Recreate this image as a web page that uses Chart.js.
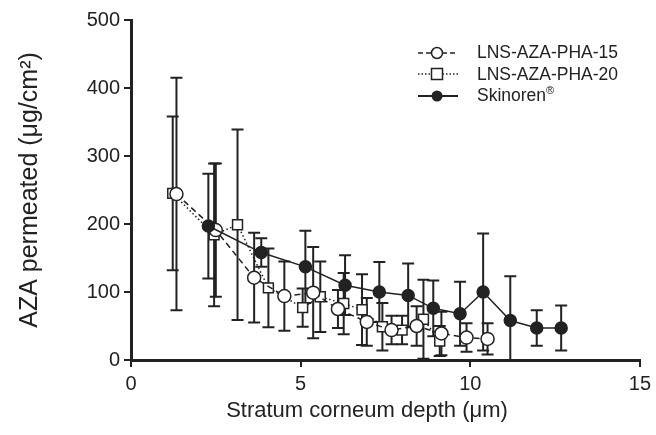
<!DOCTYPE html>
<html>
<head>
<meta charset="utf-8">
<script src="https://cdn.jsdelivr.net/npm/chart.js@4.4.1/dist/chart.umd.min.js"></script>
<style>
  html, body { margin: 0; padding: 0; background: #fff; }
  #wrap { position: relative; width: 656px; height: 435px; }
  #legend {
    position: absolute; left: 416px; top: 42px;
    font-family: "Liberation Sans", Arial, sans-serif; font-size: 17.5px; color: #222;
  }
  .row { display: flex; align-items: center; height: 21.5px; }
  .row svg { width: 44px; height: 16px; margin-right: 17px; }
  .row sup { font-size: 11px; line-height: 0; }
  #xtitle {
    position: absolute; left: 367px; top: 397px; transform: translateX(-50%);
    white-space: nowrap; font-family: "Liberation Sans", Arial, sans-serif; font-size: 22px; color: #222;
  }
</style>
</head>
<body>
<div id="wrap">
  <canvas id="chart" width="656" height="435"></canvas>
  <div id="xtitle">Stratum corneum depth (μm)</div>
  <div id="legend">
    <div class="row">
      <svg viewBox="0 0 44 16"><line x1="2" y1="8" x2="42" y2="8" stroke="#222" stroke-width="1.5" stroke-dasharray="5 3"/><circle cx="21" cy="8" r="5.5" fill="#fff" stroke="#222" stroke-width="1.5"/></svg>
      <span>LNS-AZA-PHA-15</span>
    </div>
    <div class="row">
      <svg viewBox="0 0 44 16"><line x1="2" y1="8" x2="42" y2="8" stroke="#222" stroke-width="1.5" stroke-dasharray="1.5 2"/><rect x="15.5" y="2.5" width="11" height="11" fill="#fff" stroke="#222" stroke-width="1.5"/></svg>
      <span>LNS-AZA-PHA-20</span>
    </div>
    <div class="row">
      <svg viewBox="0 0 44 16"><line x1="2" y1="8" x2="42" y2="8" stroke="#222" stroke-width="1.8"/><circle cx="21" cy="8" r="5.5" fill="#222"/></svg>
      <span>Skinoren<sup>®</sup></span>
    </div>
  </div>
</div>
<script>
const ink = '#222';
const family = '"Liberation Sans", Arial, sans-serif';

// LNS-AZA-PHA-15 (open circles, dashed)
const depth15 = [1.34, 2.5, 3.63, 4.52, 5.37, 6.1, 6.95, 7.68, 8.42, 9.15, 9.89, 10.51];
const aza15 = [244, 191, 121, 94, 99, 75, 56, 44, 50, 39, 33, 31];
const sd15 = [171, 98, 66, 51, 67, 28, 35, 21, 29, 32, 21, 23];

// LNS-AZA-PHA-20 (open squares, dotted)
const depth20 = [1.23, 2.45, 3.14, 4.05, 5.06, 5.58, 6.27, 6.81, 7.41, 7.99, 8.62, 9.1];
const aza20 = [245, 184, 199, 106, 77, 93, 83, 74, 49, 44, 60, 28];
const sd20 = [113, 105, 140, 58, 28, 52, 45, 52, 35, 21, 58, 22];

// Skinoren (filled circles, solid)
const depthSk = [2.28, 3.84, 5.14, 6.31, 7.32, 8.17, 8.91, 9.7, 10.38, 11.18, 11.96, 12.68];
const azaSk = [197, 158, 137, 110, 100, 95, 76, 68, 100, 58, 47, 47];
const sdSk = [77, 21, 53, 44, 44, 47, 41, 47, 86, 65, 26, 33];

const xTicks = [0, 5, 10, 15];
const yTicks = [0, 100, 200, 300, 400, 500];

function points(xs, ys) {
    return xs.map((x, i) => ({ x: x, y: ys[i] }));
}

// vertical SD bars with caps, drawn under the markers
const errorBars = {
    id: 'errorBars',
    beforeDatasetsDraw(chart) {
        const { ctx, scales: { x, y } } = chart;
        ctx.save();
        ctx.strokeStyle = ink;
        ctx.lineWidth = 2;
        chart.data.datasets.forEach(ds => {
            ds.data.forEach((p, i) => {
                const px = x.getPixelForValue(p.x);
                const lo = p.y - ds.sd[i];
                const top = y.getPixelForValue(p.y + ds.sd[i]);
                const bottom = y.getPixelForValue(Math.max(lo, 0));
                ctx.beginPath();
                ctx.moveTo(px, top);
                ctx.lineTo(px, bottom);
                ctx.moveTo(px - 6, top);
                ctx.lineTo(px + 6, top);
                if (lo > 0) {
                    ctx.moveTo(px - 6, bottom);
                    ctx.lineTo(px + 6, bottom);
                }
                ctx.stroke();
            });
        });
        ctx.restore();
    }
};

const baseSet = {
    showLine: true,
    borderColor: ink,
    borderWidth: 1.5,
    pointBorderColor: ink,
    pointBorderWidth: 1.5,
    pointRadius: 6.5,
    pointHoverRadius: 6.5
};

new Chart(document.getElementById('chart'), {
    type: 'scatter',
    data: {
        datasets: [
            {
                ...baseSet,
                label: 'LNS-AZA-PHA-15',
                data: points(depth15, aza15),
                sd: sd15,
                borderDash: [6, 4],
                pointStyle: 'circle',
                pointBackgroundColor: '#fff',
                order: 2
            },
            {
                ...baseSet,
                label: 'LNS-AZA-PHA-20',
                data: points(depth20, aza20),
                sd: sd20,
                borderDash: [1.5, 2.5],
                pointStyle: 'rect',
                pointRadius: 7,
                pointBackgroundColor: '#fff',
                order: 3
            },
            {
                ...baseSet,
                label: 'Skinoren',
                data: points(depthSk, azaSk),
                sd: sdSk,
                pointStyle: 'circle',
                pointRadius: 6,
                pointBackgroundColor: ink,
                order: 1
            }
        ]
    },
    options: {
        responsive: false,
        animation: false,
        layout: { padding: { left: 0, right: 15, top: 20, bottom: 0 } },
        plugins: { legend: { display: false }, tooltip: { enabled: false } },
        scales: {
            x: {
                type: 'linear',
                min: 0,
                max: 15,
                afterBuildTicks: s => { s.ticks = xTicks.map(v => ({ value: v })); },
                afterFit: s => { s.height = 75; },
                border: { color: ink, width: 3 },
                grid: { drawOnChartArea: false, color: ink, lineWidth: 2, tickLength: 7 },
                ticks: { color: ink, font: { family: family, size: 20 }, padding: 5 },
                title: { display: false }
            },
            y: {
                type: 'linear',
                min: 0,
                max: 500,
                afterBuildTicks: s => { s.ticks = yTicks.map(v => ({ value: v })); },
                afterFit: s => { s.width = 131; },
                border: { color: ink, width: 3 },
                grid: { drawOnChartArea: false, color: ink, lineWidth: 2, tickLength: 7 },
                ticks: { color: ink, font: { family: family, size: 20 }, padding: 4 },
                title: {
                    display: true,
                    text: 'AZA permeated (μg/cm²)',
                    color: ink,
                    font: { family: family, size: 25 },
                    padding: { top: 15, bottom: 0 }
                }
            }
        }
    },
    plugins: [errorBars]
});
</script>
</body>
</html>
